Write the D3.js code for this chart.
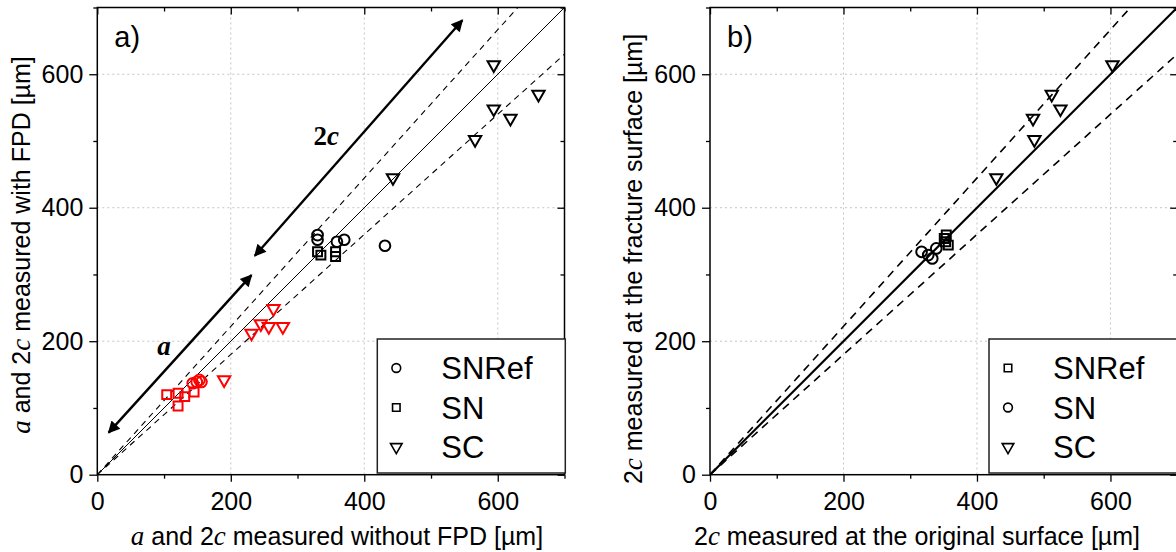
<!DOCTYPE html>
<html>
<head>
<meta charset="utf-8">
<script src="https://cdn.jsdelivr.net/npm/d3@7"></script>
<style>
body { margin: 0; background: #fff; }
svg { display: block; font-family: "Liberation Sans", Arial, sans-serif; }
.tick text { font-size: 25px; fill: #000; }
.domain { display: none; }
.tick line { stroke: #000; stroke-width: 1.3; }
</style>
</head>
<body>
<svg id="chart" width="1176" height="552"></svg>
<script>
// panel a: a (red) and 2c (black) measured without / with FPD
const snrefA_x = [143, 149, 153, 156];
const snrefA_y = [137, 139, 142, 139];
const snA_x = [104, 121, 131, 121, 145];
const snA_y = [120, 122, 117, 103, 124];
const scA_x = [190, 231, 245, 257, 278, 264];
const scA_y = [142, 212, 226, 222, 222, 249];
const snref2c_x = [330, 330, 359, 370, 431];
const snref2c_y = [359, 352, 349, 352, 343];
const sn2c_x = [330, 335, 357, 357];
const sn2c_y = [334, 329, 334, 327];
const sc2c_x = [443, 566, 594, 594, 619, 661];
const sc2c_y = [445, 502, 548, 614, 534, 570];

// panel b: 2c at original surface vs fracture surface
const snrefB_x = [354, 351, 353, 357];
const snrefB_y = [359, 354, 349, 344];
const snB_x = [317, 327, 333, 339];
const snB_y = [334, 329, 324, 339];
const scB_x = [429, 486, 484, 525, 512, 603];
const scB_y = [445, 502, 534, 548, 570, 614];

// reference lines y = k*x
const ratios = [1 / 0.9, 1, 0.9];
const majorTicks = [0, 200, 400, 600];
const minorTicks = [100, 300, 500, 700];

// double arrows in panel a (data units)
const arrows = [
  {x1: 236, y1: 328, x2: 547, y2: 681},
  {x1: 17, y1: 63, x2: 231, y2: 299}
];

const zip = (xs, ys) => xs.map((x, i) => ({x: x, y: ys[i]}));
const svg = d3.select("#chart");

svg.append("defs").append("marker")
  .attr("id", "head").attr("viewBox", "0 0 10 10")
  .attr("refX", 9).attr("refY", 5)
  .attr("markerWidth", 6).attr("markerHeight", 5)
  .attr("markerUnits", "strokeWidth")
  .attr("orient", "auto-start-reverse")
  .append("path").attr("d", "M0,0 L10,5 L0,10 z").attr("fill", "#000");

const symbolPath = {
  circle: d3.symbol().type(d3.symbolCircle).size(90)(),
  square: d3.symbol().type(d3.symbolSquare).size(80)(),
  triangle: d3.symbol().type(d3.symbolTriangle).size(66)()
};
const legendPath = {
  circle: d3.symbol().type(d3.symbolCircle).size(60)(),
  square: d3.symbol().type(d3.symbolSquare).size(56)(),
  triangle: d3.symbol().type(d3.symbolTriangle).size(58)()
};

function panel(left, opts) {
  const top = 7.5, size = 467.2;
  const x = d3.scaleLinear().domain([0, 700]).range([left, left + size]);
  const y = d3.scaleLinear().domain([0, 700]).range([top + size, top]);
  const g = svg.append("g");

  // grid
  g.selectAll(".gx").data([200, 400, 600]).join("line")
    .attr("x1", d => x(d)).attr("x2", d => x(d))
    .attr("y1", top).attr("y2", top + size)
    .attr("stroke", "#c4c4c4").attr("stroke-dasharray", "2,3");
  g.selectAll(".gy").data([200, 400, 600]).join("line")
    .attr("y1", d => y(d)).attr("y2", d => y(d))
    .attr("x1", left).attr("x2", left + size)
    .attr("stroke", "#c4c4c4").attr("stroke-dasharray", "2,3");

  // reference lines
  const clipId = "clip" + Math.round(left);
  svg.append("clipPath").attr("id", clipId).append("rect")
    .attr("x", left).attr("y", top).attr("width", size).attr("height", size);
  g.append("g").attr("clip-path", `url(#${clipId})`)
    .selectAll("line").data(ratios).join("line")
    .attr("x1", x(0)).attr("y1", y(0))
    .attr("x2", x(700)).attr("y2", k => y(700 * k))
    .attr("stroke", "#000")
    .attr("stroke-width", k => k === 1 ? opts.solidW : opts.dashW)
    .attr("stroke-dasharray", k => k === 1 ? null : opts.dash);

  // axes
  g.append("g").attr("transform", `translate(0,${top + size})`)
    .call(d3.axisBottom(x).tickValues(majorTicks).tickSize(7).tickPadding(11));
  g.append("g").attr("transform", `translate(0,${top + size})`)
    .call(d3.axisBottom(x).tickValues(minorTicks).tickSize(4).tickFormat(""));
  g.append("g").attr("transform", `translate(${left},0)`)
    .call(d3.axisLeft(y).tickValues(majorTicks).tickSize(8).tickPadding(6));
  g.append("g").attr("transform", `translate(${left},0)`)
    .call(d3.axisLeft(y).tickValues(minorTicks).tickSize(4).tickFormat(""));
  g.append("g").attr("transform", `translate(0,${top})`)
    .call(d3.axisBottom(x).tickValues(majorTicks).tickSize(7).tickFormat(""));
  g.append("g").attr("transform", `translate(0,${top})`)
    .call(d3.axisBottom(x).tickValues(minorTicks).tickSize(4).tickFormat(""));
  g.append("g").attr("transform", `translate(${left + size},0)`)
    .call(d3.axisLeft(y).tickValues(majorTicks).tickSize(7).tickFormat(""));
  g.append("g").attr("transform", `translate(${left + size},0)`)
    .call(d3.axisLeft(y).tickValues(minorTicks).tickSize(4).tickFormat(""));

  g.append("rect").attr("x", left).attr("y", top)
    .attr("width", size).attr("height", size)
    .attr("fill", "none").attr("stroke", "#000").attr("stroke-width", 1.5);

  // points
  opts.series.forEach(s => {
    g.selectAll(null).data(s.pts).join("path")
      .attr("d", symbolPath[s.shape])
      .attr("transform", d => `translate(${x(d.x)},${y(d.y)})` + (s.shape === "triangle" ? " rotate(180)" : ""))
      .attr("fill", "none").attr("stroke", s.color).attr("stroke-width", 2);
  });

  // legend
  const lx = left + opts.legendX, ly = 339;
  g.append("rect").attr("x", lx).attr("y", ly)
    .attr("width", 188).attr("height", 134)
    .attr("fill", "#fff").attr("stroke", "#222").attr("stroke-width", 1.5);
  opts.legend.forEach((d, i) => {
    const row = g.append("g").attr("transform", `translate(${lx},${368 + i * 39.5})`);
    row.append("path").attr("d", legendPath[d.shape])
      .attr("transform", `translate(19,0)` + (d.shape === "triangle" ? " rotate(180)" : ""))
      .attr("fill", "none").attr("stroke", "#000").attr("stroke-width", 1.6);
    row.append("text").attr("x", 64).attr("dy", "0.36em")
      .attr("font-size", 31).text(d.label);
  });

  // panel letter
  g.append("text").attr("x", left + 17).attr("y", 47)
    .attr("font-size", 29).text(opts.letter);

  // x title
  const xt = g.append("text").attr("x", opts.xTitleX).attr("y", 545)
    .attr("text-anchor", "middle").attr("font-size", 25);
  opts.xTitle.forEach(p => xt.append("tspan").text(p.t)
    .attr("font-family", p.i ? "Liberation Serif, serif" : null)
    .attr("font-style", p.i ? "italic" : null)
    .attr("font-size", p.i ? 27 : null));
  // y title
  const yt = g.append("text")
    .attr("transform", `translate(${opts.yTitleX},${opts.yTitleY}) rotate(-90)`)
    .attr("text-anchor", "middle").attr("font-size", 25);
  opts.yTitle.forEach(p => yt.append("tspan").text(p.t)
    .attr("font-family", p.i ? "Liberation Serif, serif" : null)
    .attr("font-style", p.i ? "italic" : null)
    .attr("font-size", p.i ? 27 : null));

  return {g, x, y};
}

const pa = panel(97.3, {
  solidW: 1, dashW: 1.1, dash: "6,5",
  letter: "a)", legendX: 280,
  series: [
    {pts: zip(snrefA_x, snrefA_y), shape: "circle", color: "#f00"},
    {pts: zip(snA_x, snA_y), shape: "square", color: "#f00"},
    {pts: zip(scA_x, scA_y), shape: "triangle", color: "#f00"},
    {pts: zip(snref2c_x, snref2c_y), shape: "circle", color: "#000"},
    {pts: zip(sn2c_x, sn2c_y), shape: "square", color: "#000"},
    {pts: zip(sc2c_x, sc2c_y), shape: "triangle", color: "#000"}
  ],
  legend: [{shape: "circle", label: "SNRef"}, {shape: "square", label: "SN"}, {shape: "triangle", label: "SC"}],
  xTitleX: 337, xTitle: [{t: "a", i: true}, {t: " and 2"}, {t: "c", i: true}, {t: " measured without FPD [µm]"}],
  yTitleX: 30, yTitleY: 245, yTitle: [{t: "a", i: true}, {t: " and 2"}, {t: "c", i: true}, {t: " measured with FPD [µm]"}]
});

const pb = panel(710, {
  solidW: 2.2, dashW: 1.6, dash: "8,6",
  letter: "b)", legendX: 279,
  series: [
    {pts: zip(snrefB_x, snrefB_y), shape: "square", color: "#000"},
    {pts: zip(snB_x, snB_y), shape: "circle", color: "#000"},
    {pts: zip(scB_x, scB_y), shape: "triangle", color: "#000"}
  ],
  legend: [{shape: "square", label: "SNRef"}, {shape: "circle", label: "SN"}, {shape: "triangle", label: "SC"}],
  xTitleX: 917, xTitle: [{t: "2"}, {t: "c", i: true}, {t: " measured at the original surface [µm]"}],
  yTitleX: 642, yTitleY: 259, yTitle: [{t: "2"}, {t: "c", i: true}, {t: " measured at the fracture surface [µm]"}]
});

// double-headed arrows and their labels
pa.g.selectAll(".arr").data(arrows).join("line")
  .attr("x1", d => pa.x(d.x1)).attr("y1", d => pa.y(d.y1))
  .attr("x2", d => pa.x(d.x2)).attr("y2", d => pa.y(d.y2))
  .attr("stroke", "#000").attr("stroke-width", 2.4)
  .attr("marker-start", "url(#head)").attr("marker-end", "url(#head)");

const lab2c = pa.g.append("text").attr("x", pa.x(324)).attr("y", pa.y(494))
  .attr("font-family", "Liberation Serif, serif").attr("font-weight", "bold").attr("font-size", 27);
lab2c.append("tspan").text("2");
lab2c.append("tspan").attr("font-style", "italic").text("c");
pa.g.append("text").attr("x", pa.x(90)).attr("y", pa.y(180))
  .attr("font-family", "Liberation Serif, serif").attr("font-weight", "bold")
  .attr("font-style", "italic").attr("font-size", 27).text("a");
</script>
</body>
</html>
